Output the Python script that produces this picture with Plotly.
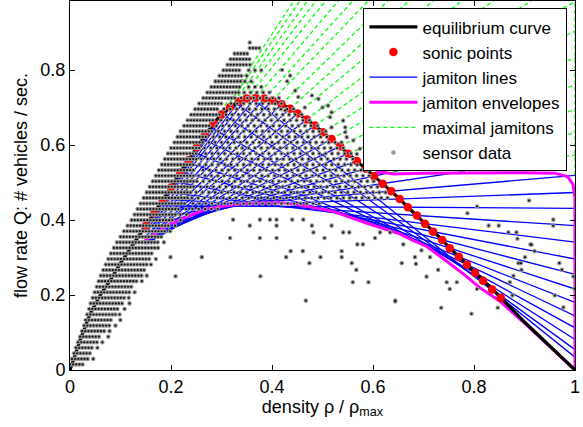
import plotly.graph_objects as go

# ---------------- data ----------------
# equilibrium curve Q(rho)
EQ_RHO = [0.0, 0.02, 0.04, 0.06, 0.08, 0.10, 0.12, 0.14, 0.16, 0.18, 0.20, 0.218, 0.234, 0.251,
          0.267, 0.284, 0.30, 0.317, 0.335, 0.35, 0.368, 0.385, 0.401, 0.419, 0.436, 0.451,
          0.469, 0.485, 0.501, 0.518, 0.535, 0.551, 0.568, 0.586, 0.602, 0.619, 0.636, 0.653,
          0.669, 0.687, 0.703, 0.72, 0.737, 0.752, 0.77, 0.786, 0.802, 0.818, 0.836, 0.853,
          0.90, 0.95, 1.0]
EQ_Q = [0.0, 0.08, 0.15, 0.20, 0.24, 0.285, 0.325, 0.365, 0.405, 0.445, 0.487, 0.527, 0.559, 0.594,
        0.627, 0.658, 0.681, 0.701, 0.717, 0.724, 0.726, 0.724, 0.719, 0.709, 0.697, 0.684,
        0.668, 0.652, 0.634, 0.616, 0.597, 0.577, 0.557, 0.537, 0.517, 0.497, 0.477, 0.456,
        0.434, 0.412, 0.390, 0.369, 0.347, 0.325, 0.302, 0.281, 0.259, 0.238, 0.215, 0.193,
        0.128, 0.064, 0.0]

# sonic points (red dots) and the jamiton line through each one
SONIC_RHO = [0.150, 0.167, 0.184, 0.200, 0.218, 0.234, 0.251, 0.267, 0.284, 0.300, 0.317, 0.335,
             0.350, 0.368, 0.385, 0.401, 0.419, 0.436, 0.451, 0.469, 0.485, 0.501, 0.518, 0.535,
             0.551, 0.568, 0.586, 0.602, 0.619, 0.636, 0.653, 0.669, 0.687, 0.703, 0.719, 0.737,
             0.752, 0.770, 0.786, 0.802, 0.818, 0.836, 0.853]
SONIC_Q = [0.385, 0.419, 0.453, 0.487, 0.527, 0.559, 0.594, 0.627, 0.658, 0.681, 0.701, 0.717,
           0.724, 0.726, 0.724, 0.719, 0.709, 0.697, 0.684, 0.668, 0.652, 0.634, 0.616, 0.597,
           0.577, 0.557, 0.537, 0.517, 0.497, 0.477, 0.456, 0.434, 0.412, 0.390, 0.369, 0.347,
           0.325, 0.302, 0.281, 0.259, 0.238, 0.215, 0.193]
JAM_SLOPE = [2.40, 2.35, 2.30, 2.25, 2.20, 2.15, 2.10, 2.08, 2.05, 1.95, 1.85, 1.76,
             1.67, 1.58, 1.49, 1.40, 1.31, 1.22, 1.12, 1.03, 0.94, 0.85, 0.76, 0.66,
             0.57, 0.47, 0.38, 0.29, 0.20, 0.115, 0.05, -0.009, -0.087, -0.165, -0.26, -0.35,
             -0.44, -0.53, -0.64, -0.74, -0.86, -0.98, -1.08]
JAM_RHO_LEFT = [0.135, 0.150, 0.165, 0.180, 0.195, 0.210, 0.225, 0.240, 0.230, 0.205, 0.200, 0.180,
                0.165, 0.150, 0.150, 0.150, 0.150, 0.150, 0.150, 0.150, 0.150, 0.150, 0.152, 0.155,
                0.157, 0.160, 0.163, 0.166, 0.168, 0.172, 0.173, 0.176, 0.185, 0.195, 0.206, 0.219,
                0.232, 0.245, 0.263, 0.277, 0.300, 0.330, 0.360]
JAM_RHO_RIGHT = [0.150, 0.167, 0.184, 0.200, 0.218, 0.234, 0.251, 0.267, 0.284, 0.300, 0.317, 0.335,
                 0.350, 0.368, 0.385, 0.401, 0.419, 0.436, 0.451, 0.469, 0.485, 0.501, 0.518, 0.535,
                 0.551, 0.568, 0.586, 0.634, 0.775, 1.0, 1.0, 1.0, 1.0, 1.0, 1.0, 1.0,
                 1.0, 1.0, 1.0, 1.0, 1.0, 1.0, 1.0]
# maximal jamitons (green dashed): index range of sonic points that have one
MAX_FIRST, MAX_LAST = 8, 28
MAX_END_RHO = 1.0
MAX_EDGE_Q = [0.52, 0.984]   # dashed segment along rho = 1

# jamiton envelopes
LOW_ENV_RHO = [0.145, 0.158, 0.198, 0.238, 0.27, 0.337, 0.416, 0.455, 0.521, 0.587, 0.653,
               0.68, 0.706, 0.746, 0.78, 0.812, 0.85, 0.90, 0.95, 1.0]
LOW_ENV_Q = [0.341, 0.354, 0.39, 0.412, 0.43, 0.443, 0.447, 0.44, 0.423, 0.392, 0.363,
             0.345, 0.33, 0.29, 0.255, 0.219, 0.185, 0.125, 0.062, 0.0]
UP_ENV_RHO = [0.598, 0.607, 0.62, 0.64, 0.70, 0.80, 0.90, 0.96, 0.985, 0.996, 1.0, 1.0]
UP_ENV_Q = [0.519, 0.526, 0.527, 0.523, 0.525, 0.526, 0.526, 0.525, 0.516, 0.495, 0.46, 0.003]

# sensor data: quantised flow rows; dense band [ROW_L, ROW_R], sparser part up to ROW_S
ROW_DQ = 0.0148
ROW_L = [0.000, 0.004, 0.008, 0.012, 0.016, 0.020, 0.024, 0.028, 0.031, 0.034, 0.038, 0.041,
         0.045, 0.049, 0.053, 0.057, 0.061, 0.066, 0.071, 0.076, 0.081, 0.087, 0.093, 0.100,
         0.107, 0.114, 0.122, 0.128, 0.134, 0.140, 0.146, 0.152, 0.158, 0.164, 0.170, 0.176,
         0.182, 0.188, 0.194, 0.200, 0.207, 0.213, 0.219, 0.226, 0.233, 0.240, 0.248, 0.256,
         0.264, 0.272, 0.280, 0.288, 0.296, 0.304, 0.312, 0.318, 0.326, 0.356, 0.356]
ROW_R = [0.028, 0.036, 0.042, 0.048, 0.054, 0.062, 0.072, 0.080, 0.086, 0.092, 0.098, 0.104,
         0.110, 0.118, 0.126, 0.136, 0.142, 0.148, 0.154, 0.160, 0.164, 0.168, 0.176, 0.186,
         0.192, 0.198, 0.205, 0.212, 0.220, 0.230, 0.235, 0.240, 0.245, 0.245, 0.245, 0.250,
         0.250, 0.250, 0.255, 0.260, 0.265, 0.270, 0.275, 0.280, 0.285, 0.290, 0.295, 0.305,
         0.320, 0.335, 0.340, 0.340, 0.340, 0.340, 0.350, 0.360, 0.356, 0.376, 0.356]
ROW_S = [0.028, 0.050, 0.055, 0.062, 0.070, 0.078, 0.088, 0.092, 0.100, 0.108, 0.112, 0.118,
         0.124, 0.130, 0.138, 0.148, 0.152, 0.158, 0.164, 0.170, 0.176, 0.180, 0.188, 0.196,
         0.204, 0.212, 0.220, 0.235, 0.300, 0.500, 0.640, 0.630, 0.620, 0.610, 0.600, 0.590,
         0.580, 0.570, 0.560, 0.550, 0.540, 0.520, 0.510, 0.500, 0.480, 0.460, 0.450, 0.430,
         0.420, 0.400, 0.380, 0.370, 0.360, 0.380, 0.360, 0.360, 0.356, 0.376, 0.356]
DOT_STEP = 0.0062
SPARSE_STEP = 0.0125

SCAT_RHO = [0.323, 0.356, 0.317, 0.376, 0.376, 0.409, 0.409, 0.409, 0.396, 0.261, 0.209, 0.377,
            0.428, 0.437, 0.44, 0.199, 0.462, 0.461, 0.474, 0.479, 0.482, 0.504, 0.496, 0.518,
            0.541, 0.553, 0.538, 0.538, 0.558, 0.567, 0.56, 0.591, 0.569, 0.58, 0.467, 0.644,
            0.657, 0.683, 0.66, 0.614, 0.634, 0.604, 0.729, 0.746, 0.766, 0.752, 0.735, 0.795,
            0.847, 0.806, 0.829, 0.868, 0.884, 0.912, 0.888, 0.893, 0.894, 0.871, 0.96, 0.977,
            0.974, 0.969, 0.957, 0.957, 0.806, 0.644, 0.909, 0.787, 0.849, 0.886, 0.914, 0.92,
            0.997, 0.999, 0.876, 0.901, 0.878, 0.644, 0.706, 0.713, 0.685, 0.696,
            0.436, 0.446, 0.452, 0.479, 0.515, 0.518, 0.548, 0.545, 0.426, 0.492, 0.511, 0.518,
            0.541, 0.545, 0.561, 0.574, 0.62, 0.568, 0.644, 0.43, 0.42, 0.465, 0.5]
SCAT_Q = [0.401, 0.385, 0.352, 0.401, 0.352, 0.401, 0.352, 0.385, 0.401, 0.301, 0.25, 0.25,
          0.301, 0.317, 0.401, 0.301, 0.401, 0.317, 0.285, 0.385, 0.367, 0.352, 0.301, 0.385,
          0.367, 0.367, 0.317, 0.301, 0.285, 0.267, 0.234, 0.234, 0.335, 0.335, 0.185, 0.185,
          0.285, 0.301, 0.335, 0.367, 0.367, 0.352, 0.267, 0.234, 0.234, 0.216, 0.166, 0.15,
          0.166, 0.436, 0.385, 0.367, 0.367, 0.335, 0.285, 0.285, 0.267, 0.234, 0.199, 0.167,
          0.267, 0.285, 0.385, 0.401, 0.216, 0.537, 0.452, 0.418, 0.385, 0.35, 0.334, 0.317,
          0.249, 0.217, 0.199, 0.301, 0.251, 0.183, 0.249, 0.301, 0.283, 0.319,
          0.785, 0.745, 0.728, 0.732, 0.674, 0.647, 0.621, 0.647, 0.692, 0.723, 0.705, 0.687,
          0.665, 0.634, 0.612, 0.59, 0.616, 0.576, 0.532, 0.77, 0.8, 0.7, 0.7]

X_TICKS = [0, 0.2, 0.4, 0.6, 0.8, 1]
X_TICKTEXT = ["0", "0.2", "0.4", "0.6", "0.8", "1"]
Y_TICKS = [0, 0.2, 0.4, 0.6, 0.8]
Y_TICKTEXT = ["0", "0.2", "0.4", "0.6", "0.8"]

# ---------------- build traces ----------------
FONT = "Liberation Sans, Arial, Helvetica, sans-serif"


def line_q(i, r):
    return SONIC_Q[i] + JAM_SLOPE[i] * (r - SONIC_RHO[i])


# jamiton lines
jx, jy = [], []
for i in range(len(SONIC_RHO)):
    a, b = JAM_RHO_LEFT[i], JAM_RHO_RIGHT[i]
    jx += [a, b, None]
    jy += [line_q(i, a), line_q(i, b), None]

# maximal jamitons
gx, gy = [], []
for i in range(MAX_FIRST, MAX_LAST + 1):
    a = JAM_RHO_RIGHT[i]
    gx += [a, MAX_END_RHO, None]
    gy += [line_q(i, a), line_q(i, MAX_END_RHO), None]
gx += [MAX_END_RHO, MAX_END_RHO, None]
gy += [MAX_EDGE_Q[0], MAX_EDGE_Q[1], None]

# envelopes in a single trace
ex = LOW_ENV_RHO + [None] + UP_ENV_RHO
ey = LOW_ENV_Q + [None] + UP_ENV_Q

# sensor data
sx, sy = [], []
for k in range(len(ROW_L)):
    q = (k + 1) * ROW_DQ
    r = ROW_L[k]
    while r <= ROW_R[k] + 1e-9:
        sx.append(r)
        sy.append(q)
        r += DOT_STEP
    r = ROW_R[k] + SPARSE_STEP * (0.5 + 0.3 * (k % 3))
    while r <= ROW_S[k] + 1e-9:
        sx.append(r)
        sy.append(q)
        r += SPARSE_STEP
sx += SCAT_RHO
sy += SCAT_Q

fig = go.Figure()
fig.add_trace(go.Scatter(x=gx, y=gy, mode="lines", name="maximal jamitons", legendrank=5,
                         line=dict(color="rgb(0,255,0)", width=1.3, dash="4px,3px")))
fig.add_trace(go.Scatter(x=jx, y=jy, mode="lines", name="jamiton lines", legendrank=3,
                         line=dict(color="rgb(0,0,255)", width=1.3)))
fig.add_trace(go.Scatter(x=ex, y=ey, mode="lines", name="jamiton envelopes", legendrank=4,
                         line=dict(color="rgb(255,0,255)", width=3)))
fig.add_trace(go.Scatter(x=EQ_RHO, y=EQ_Q, mode="lines", name="equilibrium curve", legendrank=1,
                         line=dict(color="black", width=3.2)))
fig.add_trace(go.Scatter(x=SONIC_RHO, y=SONIC_Q, mode="markers", name="sonic points", legendrank=2,
                         marker=dict(color="rgb(255,0,0)", size=8.5, line=dict(width=0))))
fig.add_trace(go.Scatter(x=sx, y=sy, mode="markers", name="sensor data", legendrank=6,
                         marker=dict(color="rgb(155,155,155)", size=4.6, line=dict(width=0))))
fig.add_trace(go.Scatter(x=sx, y=sy, mode="markers", showlegend=False, hoverinfo="skip",
                         marker=dict(color="rgb(20,20,20)", size=2.2, line=dict(width=0))))

axis_common = dict(showline=True, linecolor="black", linewidth=1, mirror="ticks",
                   ticks="inside", ticklen=5, tickcolor="black", showgrid=False,
                   zeroline=False, automargin=False,
                   tickfont=dict(family=FONT, size=18, color="black"))

fig.update_layout(
    width=583, height=427,
    margin=dict(l=70, r=8, t=1, b=57, autoexpand=False),
    paper_bgcolor="white", plot_bgcolor="white",
    font=dict(family=FONT, size=18, color="black"),
    xaxis=dict(range=[0, 1], tickvals=X_TICKS, ticktext=X_TICKTEXT,
               title=dict(text="density ρ / ρ<sub>max</sub>", standoff=2,
                          font=dict(family=FONT, size=18)),
               **axis_common),
    yaxis=dict(range=[0, 0.984], tickvals=Y_TICKS, ticktext=Y_TICKTEXT,
               title=dict(text="flow rate Q: # vehicles / sec.", standoff=8,
                          font=dict(family=FONT, size=18)),
               **axis_common),
    legend=dict(x=0.985, y=0.98, xanchor="right", yanchor="top",
                bgcolor="white", bordercolor="black", borderwidth=1,
                font=dict(family=FONT, size=17), itemwidth=48,
                tracegroupgap=0),
    showlegend=True,
)

fig.write_html("out.html", config={"displayModeBar": False},
               post_script="document.body.style.margin='0px';")
